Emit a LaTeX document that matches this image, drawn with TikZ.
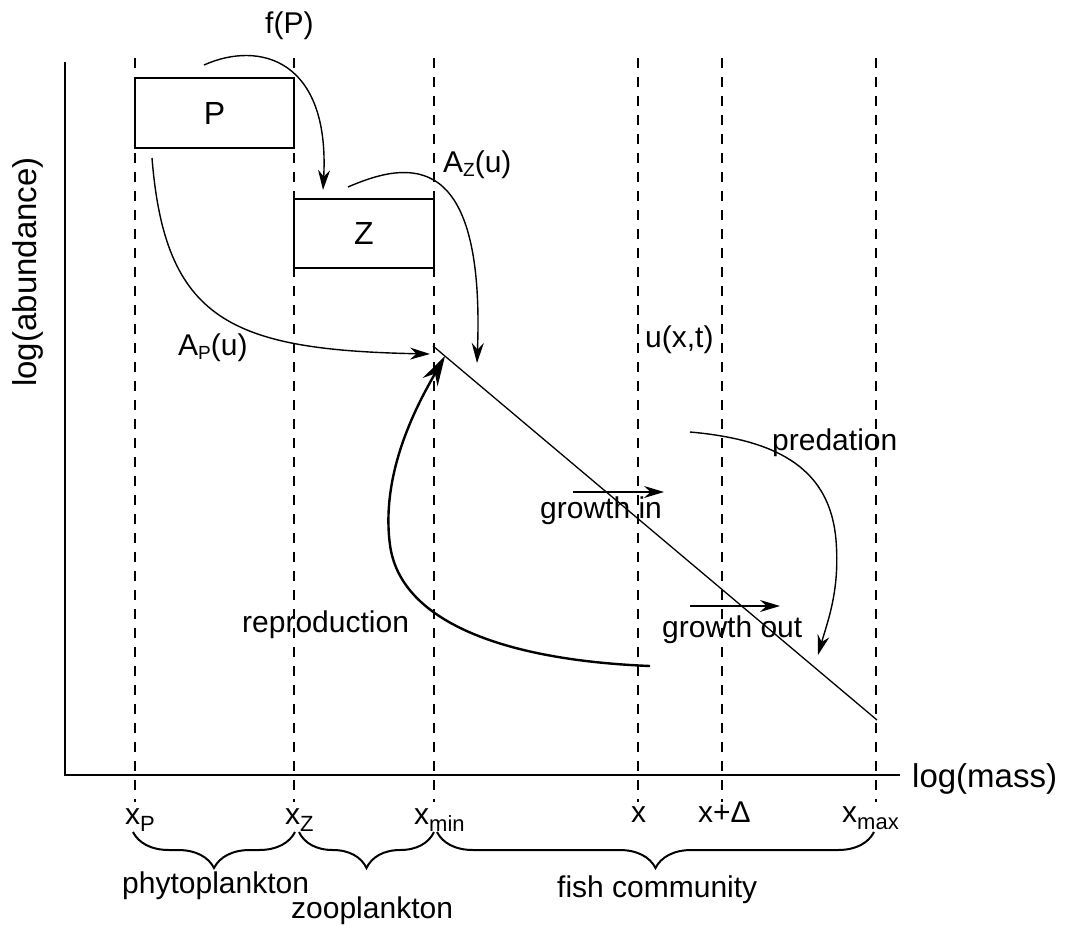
\documentclass[tikz,border=0pt]{standalone}
\usepackage{fontspec}
\setmainfont{Liberation Sans}
\usetikzlibrary{arrows.meta,decorations.pathreplacing}
\newcommand\mysub[1]{\raisebox{-4pt}{\fontsize{19}{20}\selectfont #1}}
\newcommand\mysubx[1]{\raisebox{-7pt}{\fontsize{22}{24}\selectfont #1}}
\begin{document}
\begin{tikzpicture}[x=1pt,y=-1pt,
  lbl/.style={inner sep=0pt, anchor=base west, font=\fontsize{30}{36}\selectfont},
  axlbl/.style={inner sep=0pt, font=\fontsize{33}{38}\selectfont},
  vline/.style={line width=1.1pt, dash pattern=on 10pt off 9pt},
  axis/.style={line width=1.3pt},
  arr/.style={line width=1.4pt, -{Stealth[length=20pt,width=12pt]}},
  bigarr/.style={line width=2.4pt, -{Stealth[length=30pt,width=17pt]}},
  boxn/.style={draw, line width=1.3pt, inner sep=0pt, font=\fontsize{32}{36}\selectfont},
  brc/.style={decorate, decoration={brace, mirror, amplitude=36pt, aspect=0.5}, line width=2pt}
]
\useasboundingbox (0,0) rectangle (1074,926);

% dashed verticals
\foreach \xx in {135,294,434,638,722,876}{
  \draw[vline] (\xx,58) -- (\xx,802);
}

% axes
\coordinate (o) at (65,775);
\coordinate (ytop) at (65,62);
\coordinate (xend) at (900,775);
\draw[axis] (ytop) -- (o) -- (xend);
\node[axlbl, rotate=90] (ylab) at (28,272) {log(abundance)};
\node[axlbl, anchor=base west] (xlab) at (912,787) {log(mass)};

% boxes
\node[boxn, minimum width=159pt, minimum height=70pt] (P) at (214.5,113) {P};
\node[boxn, minimum width=140pt, minimum height=69pt] (Z) at (364,233.5) {Z};

% size spectrum
\coordinate (s0) at (433,346);
\coordinate (s1) at (877,720);
\draw[line width=1.3pt] (s0) -- (s1);

% f(P)
\node[lbl] (fP) at (265,33) {f(P)};
\coordinate (f0) at (204,65);
\coordinate (f1) at (323,190);
\draw[arr] (f0) .. controls (260,40) and (330,60) .. (f1);

% A_Z(u)
\node[lbl] (AZ) at (443,172) {A\mysub{Z}(u)};
\coordinate (az0) at (348,187);
\coordinate (az1) at (477,363);
\draw[arr] (az0) .. controls (410,160) and (485,150) .. (az1);

% A_P(u)
\node[lbl] (AP) at (178,355) {A\mysub{P}(u)};
\coordinate (ap0) at (152,158);
\coordinate (ap1) at (430,354);
\draw[arr] (ap0) .. controls (165,320) and (230,350) .. (ap1);

% u(x,t)
\node[lbl] (uxt) at (645,347) {u(x,t)};

% predation
\node[lbl] (pred) at (772,450) {predation};
\coordinate (pr0) at (690,432);
\coordinate (pr1) at (836,540);
\coordinate (pr2) at (818,655);
\draw[arr] (pr0) .. controls (780,440) and (830,470) .. (pr1)
  .. controls (840,590) and (828,620) .. (pr2);

% growth in / out
\node[lbl] (gin) at (540,518) {growth in};
\coordinate (gi0) at (573,492);
\coordinate (gi1) at (664,492);
\draw[arr] (gi0) -- (gi1);
\node[lbl] (gout) at (662,637) {growth out};
\coordinate (go0) at (690,606);
\coordinate (go1) at (780,606);
\draw[arr] (go0) -- (go1);

% reproduction
\node[lbl] (repro) at (242,632) {reproduction};
\coordinate (r0) at (650,666);
\coordinate (rm) at (390,545);
\coordinate (r1) at (445,356);
\draw[bigarr] (r0) .. controls (500,660) and (400,620) .. (rm)
  .. controls (380,470) and (420,400) .. (r1);

% x labels
\node[lbl] (xP) at (125,824) {x\mysubx{P}};
\node[lbl] (xZ) at (285,824) {x\mysubx{Z}};
\node[lbl] (xmin) at (414,824) {x\mysubx{min}};
\node[lbl] (xx) at (631,822) {x};
\node[lbl] (xd) at (698,822) {x+Δ};
\node[lbl] (xmax) at (842,822) {x\mysubx{max}};

% braces
\coordinate (b0) at (133,832);
\coordinate (b1) at (295,832);
\coordinate (b2) at (299,832);
\coordinate (b3) at (434,832);
\coordinate (b4) at (437,832);
\coordinate (b5) at (874,832);
\draw[brc] (b0) -- (b1);
\draw[brc] (b2) -- (b3);
\draw[brc] (b4) -- (b5);

\node[lbl] (phyto) at (122,893) {phytoplankton};
\node[lbl] (zoo) at (291,918) {zooplankton};
\node[lbl] (fish) at (557,897) {fish community};
\end{tikzpicture}
\end{document}
